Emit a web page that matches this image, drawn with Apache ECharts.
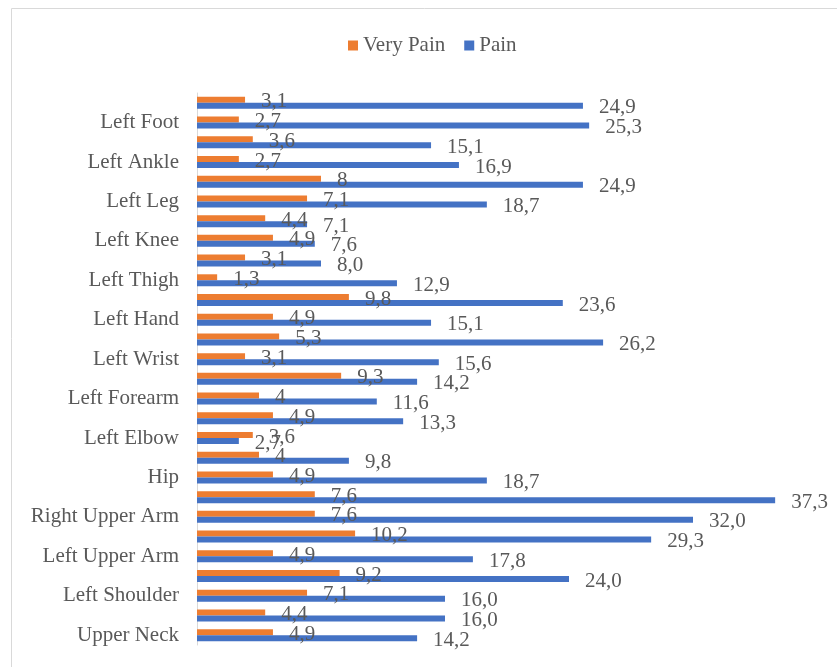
<!DOCTYPE html>
<html>
<head>
<meta charset="utf-8">
<script src="https://cdn.jsdelivr.net/npm/echarts@6/dist/echarts.min.js"></script>
<style>
	body { margin: 0; background: #fff; }
	#chart { width: 837px; height: 667px; }
</style>
</head>
<body>
<div id="chart"></div>
<script>
	// categories from bottom to top (only every other name is shown on the axis)
	const bodyParts = ['Upper Neck', 'Lower Neck', 'Left Shoulder', 'Right Shoulder', 'Left Upper Arm', 'Upper Back',
		'Right Upper Arm', 'Lower Back', 'Hip', 'Right Elbow', 'Left Elbow', 'Right Forearm', 'Left Forearm',
		'Right Wrist', 'Left Wrist', 'Right Hand', 'Left Hand', 'Right Thigh', 'Left Thigh', 'Right Knee',
		'Left Knee', 'Right Leg', 'Left Leg', 'Right Ankle', 'Left Ankle', 'Right Foot', 'Left Foot', 'Toes'];
	const veryPain = [4.9, 4.4, 7.1, 9.2, 4.9, 10.2, 7.6, 7.6, 4.9, 4, 3.6, 4.9, 4, 9.3, 3.1, 5.3, 4.9, 9.8,
		1.3, 3.1, 4.9, 4.4, 7.1, 8, 2.7, 3.6, 2.7, 3.1];
	const pain = [14.2, 16.0, 16.0, 24.0, 17.8, 29.3, 32.0, 37.3, 18.7, 9.8, 2.7, 13.3, 11.6, 14.2, 15.6, 26.2,
		15.1, 23.6, 12.9, 8.0, 7.6, 7.1, 18.7, 24.9, 16.9, 15.1, 25.3, 24.9];

	const txt = '#595959';
	const font = '"Liberation Serif", "Times New Roman", serif';

	const chart = echarts.init(document.getElementById('chart'));
	const option = {
		animation: false,
		textStyle: { fontFamily: font },
		graphic: [{
			type: 'rect',
			shape: { x: 11.5, y: 8.5, width: 900, height: 700 },
			style: { fill: 'none', stroke: '#d9d9d9', lineWidth: 1 },
			silent: true
		}],
		legend: {
			left: 343,
			top: 30,
			icon: 'rect',
			itemWidth: 10,
			itemHeight: 10,
			itemGap: 19,
			data: ['Very Pain', 'Pain'],
			textStyle: { color: txt, fontSize: 21, fontFamily: font }
		},
		grid: { left: 197, right: 20, top: 93, bottom: 22, containLabel: false },
		xAxis: {
			type: 'value',
			min: 0,
			max: 40,
			show: false
		},
		yAxis: {
			type: 'category',
			data: bodyParts,
			axisLine: { lineStyle: { color: '#d9d9d9', width: 1 } },
			axisTick: { show: false },
			axisLabel: {
				interval: 1,
				margin: 18,
				padding: [3, 0, 0, 0],
				color: txt,
				fontSize: 21,
				fontFamily: font
			}
		},
		series: [{
				name: 'Very Pain',
				type: 'bar',
				data: veryPain,
				barWidth: 6,
				barGap: 0,
				itemStyle: { color: '#ED7D31' },
				label: {
					show: true,
					position: 'right',
					distance: 16,
					offset: [0, 2],
					color: txt,
					fontSize: 21,
					fontFamily: font,
					formatter: p => String(p.value).replace('.', ',')
				}
			},
			{
				name: 'Pain',
				type: 'bar',
				data: pain,
				barWidth: 6,
				barGap: 0,
				itemStyle: { color: '#4472C4' },
				label: {
					show: true,
					position: 'right',
					distance: 16,
					offset: [0, 2],
					color: txt,
					fontSize: 21,
					fontFamily: font,
					formatter: p => p.value.toFixed(1).replace('.', ',')
				}
			}
		]
	};
	chart.setOption(option);
</script>
</body>
</html>
